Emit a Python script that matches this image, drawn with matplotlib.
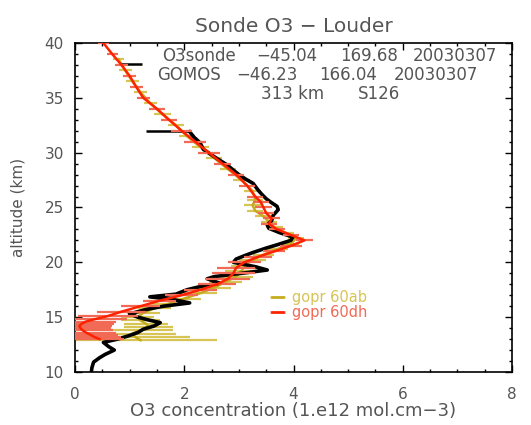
"""Ozone profile comparison: Lauder ozonesonde vs GOMOS retrievals."""

import matplotlib
matplotlib.use("Agg")
import matplotlib.pyplot as plt
from matplotlib.ticker import MultipleLocator

# ── Ozonesonde profile (conc in 1e12 mol/cm3, altitude in km) ───────────────
sonde_alt = [9.6, 10.0, 10.4, 10.9, 11.3, 11.6, 12.0, 12.3, 12.7, 13.0, 13.3,
             13.6, 13.9, 14.2, 14.5, 14.8, 15.0, 15.3, 15.7, 16.0, 16.3, 16.6,
             16.85, 17.1, 17.5, 17.8, 18.1, 18.5, 18.7, 19.0, 19.3, 19.6, 20.0,
             20.3, 20.6, 20.9, 21.3, 21.6, 22.0, 22.3, 22.7, 23.1, 23.4, 23.8,
             24.3, 24.8, 25.1, 25.5, 25.8, 26.2, 26.6, 27.2, 27.6, 28.0, 28.4,
             28.9, 29.4, 29.8, 30.3, 30.9, 31.4, 31.9]
sonde_o3 = [0.33, 0.30, 0.31, 0.34, 0.45, 0.55, 0.72, 0.62, 0.52, 0.78, 0.98,
            1.15, 1.25, 1.45, 1.56, 1.30, 1.15, 1.00, 1.30, 1.62, 2.10, 1.80,
            1.37, 1.85, 2.05, 2.30, 2.65, 2.42, 2.55, 3.05, 3.52, 3.30, 2.90,
            2.95, 3.10, 3.26, 3.50, 3.70, 3.95, 3.99, 3.75, 3.55, 3.52, 3.60,
            3.63, 3.72, 3.70, 3.58, 3.50, 3.42, 3.35, 3.26, 3.12, 3.00, 2.90,
            2.78, 2.62, 2.50, 2.35, 2.29, 2.18, 2.10]

# isolated sonde segments above the main profile
spike_alt = [32.0, 38.1]
spike_lo = [1.30, 0.82]
spike_hi = [2.10, 1.23]

# ── GOMOS gopr 60ab ──────────────────────────────────────────────────────────
ab_alt = [12.9, 13.2, 13.5, 13.8, 14.1, 14.4, 14.7, 15.0, 15.4, 15.8, 16.2,
          16.7, 17.2, 17.7, 18.2, 18.7, 19.2, 19.7, 20.2, 20.7, 21.2, 21.7,
          22.2, 22.7, 23.2, 23.7, 24.2, 24.7, 25.2, 25.7, 26.5, 27.5, 28.5,
          29.5, 30.5, 31.5, 32.5, 33.5, 34.5, 35.5, 36.5, 37.5, 38.5]
ab_o3 = [1.20, 1.10, 1.05, 1.20, 1.35, 1.30, 1.20, 1.15, 1.25, 1.45, 1.70,
         2.00, 2.30, 2.55, 2.75, 2.95, 3.05, 3.10, 3.25, 3.45, 3.70, 3.95,
         4.05, 3.85, 3.65, 3.55, 3.45, 3.30, 3.25, 3.30, 3.25, 3.05, 2.80,
         2.55, 2.30, 2.05, 1.85, 1.60, 1.38, 1.20, 1.05, 0.92, 0.80]
ab_err = [1.40, 1.00, 0.80, 0.60, 0.45, 0.40, 0.35, 0.30, 0.30, 0.30, 0.30,
          0.30, 0.30, 0.30, 0.30, 0.30, 0.30, 0.25, 0.25, 0.20, 0.20, 0.15,
          0.15, 0.15, 0.15, 0.15, 0.15, 0.15, 0.15, 0.15, 0.15, 0.15, 0.15,
          0.15, 0.15, 0.15, 0.15, 0.15, 0.12, 0.12, 0.12, 0.12, 0.10]

# ── GOMOS gopr 60dh ──────────────────────────────────────────────────────────
dh_alt = [13.0, 13.2, 13.4, 13.6, 13.8, 14.0, 14.2, 14.4, 14.6, 14.8, 15.1,
          15.5, 16.0, 16.5, 17.0, 17.5, 18.0, 18.5, 19.0, 19.5, 20.0, 20.5,
          21.0, 21.5, 22.0, 22.5, 23.0, 23.5, 24.0, 24.5, 25.0, 25.5, 26.0,
          27.0, 28.0, 29.0, 30.0, 31.0, 32.0, 33.0, 34.0, 35.0, 36.0, 37.0,
          38.0, 39.0, 40.0]
dh_o3 = [0.45, 0.35, 0.28, 0.20, 0.14, 0.10, 0.08, 0.12, 0.20, 0.35, 0.60,
         0.85, 1.20, 1.55, 1.95, 2.30, 2.60, 2.80, 2.90, 2.95, 3.10, 3.35,
         3.65, 3.95, 4.20, 3.95, 3.70, 3.55, 3.60, 3.50, 3.45, 3.40, 3.30,
         3.15, 2.95, 2.70, 2.45, 2.20, 1.95, 1.72, 1.50, 1.25, 1.12, 1.00,
         0.85, 0.68, 0.52]
dh_err = [0.45, 0.50, 0.50, 0.55, 0.55, 0.55, 0.60, 0.60, 0.55, 0.60, 0.55,
          0.45, 0.35, 0.30, 0.30, 0.30, 0.35, 0.40, 0.40, 0.35, 0.30, 0.25,
          0.20, 0.20, 0.15, 0.15, 0.15, 0.15, 0.15, 0.15, 0.15, 0.15, 0.15,
          0.15, 0.15, 0.15, 0.20, 0.20, 0.20, 0.15, 0.15, 0.12, 0.12, 0.12,
          0.12, 0.10, 0.10]

# header words and their centres (axes fraction) on each line
info_lines = [
    (["O3sonde", "\u221245.04", "169.68", "20030307"],
     [0.284, 0.485, 0.672, 0.870]),
    (["GOMOS", "\u221246.23", "166.04", "20030307"],
     [0.262, 0.440, 0.624, 0.827]),
    (["313 km", "S126"], [0.498, 0.695]),
]
info_y = [0.962, 0.903, 0.844]

C_TEXT = "#555555"
C_AB = "#c4ac1c"
C_AB_BAR = "#d6c454"
C_DH = "#ff2200"
C_DH_BAR = "#f06a55"

fig = plt.figure(figsize=(5.31, 4.25), dpi=100)
ax = fig.add_axes([75 / 531, 1 - 372 / 425, 437 / 531, 329 / 425])

ax.errorbar(ab_o3, ab_alt, xerr=ab_err, color=C_AB, ecolor=C_AB_BAR,
            elinewidth=1.6, lw=1.8, capsize=0, zorder=2, label="gopr 60ab")
ax.plot(sonde_o3, sonde_alt, color="black", lw=2.6, zorder=3)
ax.hlines(spike_alt, spike_lo, spike_hi, color="black", lw=1.8, zorder=3)
ax.errorbar(dh_o3, dh_alt, xerr=dh_err, color=C_DH, ecolor=C_DH_BAR,
            elinewidth=1.6, lw=1.8, capsize=0, zorder=4, label="gopr 60dh")

ax.set_xlim(0, 8)
ax.set_ylim(10, 40)
ax.xaxis.set_major_locator(MultipleLocator(2))
ax.xaxis.set_minor_locator(MultipleLocator(0.5))
ax.yaxis.set_major_locator(MultipleLocator(5))
ax.yaxis.set_minor_locator(MultipleLocator(1))
ax.tick_params(which="both", direction="in", top=True, right=True,
               colors="black", labelcolor=C_TEXT, labelsize=11)
ax.tick_params(which="major", length=5, width=1.0)
ax.tick_params(which="minor", length=2.5, width=1.0)
ax.tick_params(axis="x", pad=11)
ax.tick_params(axis="y", pad=8)
for s in ax.spines.values():
    s.set_linewidth(1.2)

ax.set_xlabel("O3 concentration (1.e12 mol.cm\u22123)", color=C_TEXT,
              fontsize=13, labelpad=0)
ax.set_ylabel("altitude (km)", color=C_TEXT, fontsize=11, labelpad=14)
ax.set_title("Sonde O3 \u2212 Louder", color=C_TEXT, fontsize=14.5, pad=8)

for (words, xs), y in zip(info_lines, info_y):
    for w, x in zip(words, xs):
        ax.text(x, y, w, transform=ax.transAxes, ha="center", va="center",
                color=C_TEXT, fontsize=12)

leg = ax.legend(loc="upper left", bbox_to_anchor=(0.42, 0.29), frameon=False,
                handlelength=0.8, handletextpad=0.6, labelspacing=0.05,
                fontsize=10.5, labelcolor="linecolor")
for h in leg.legend_handles:
    h.set_linewidth(1.8)

fig.savefig("out.png", dpi=100, facecolor="white")
